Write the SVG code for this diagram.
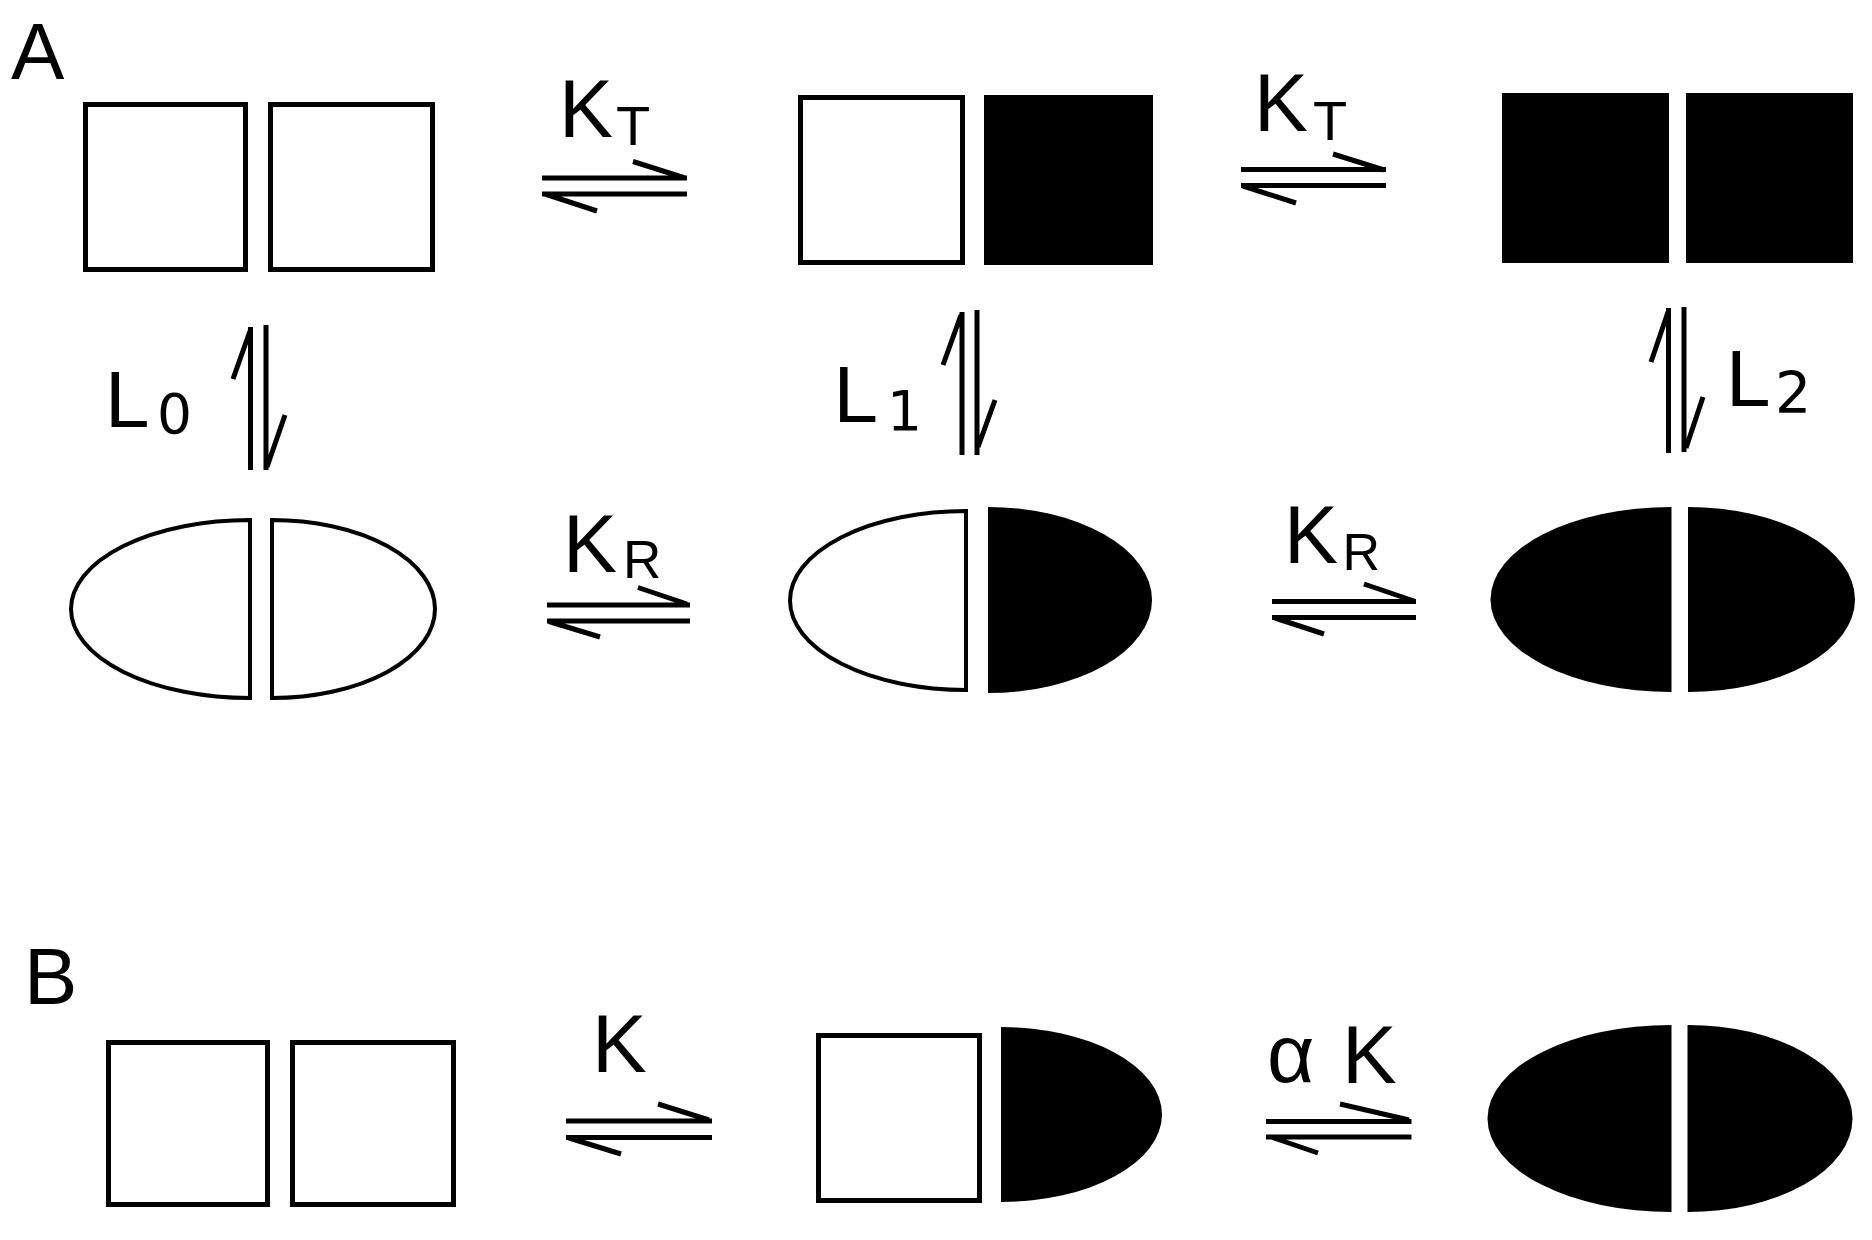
<svg xmlns="http://www.w3.org/2000/svg" width="1872" height="1240" viewBox="0 0 1872 1240">
<style>
.box{fill:#fff;stroke:#000;stroke-width:5}
.fill{fill:#000;stroke:none}
.oval{fill:#fff;stroke:#000;stroke-width:4}
.arr{fill:none;stroke:#000;stroke-width:5}
.lbl{font-family:"Liberation Sans",Arial,sans-serif;fill:#000}
.dig{font-family:"DejaVu Sans","Liberation Sans",sans-serif;fill:#000}
</style>
<rect width="1872" height="1240" fill="#fff"/>
<text class="lbl" x="11" y="79" font-size="80">A</text>
<text class="lbl" x="24" y="1004" font-size="80">B</text>

<g id="A-T0">
<rect class="box" x="85.5" y="104.5" width="160" height="165"/>
<rect class="box" x="270.5" y="104.5" width="162" height="165"/>
</g>
<g id="A-T1">
<rect class="box" x="800.5" y="97.5" width="162" height="165"/>
<rect class="fill" x="984" y="95" width="169" height="170"/>
</g>
<g id="A-T2">
<rect class="fill" x="1502" y="93" width="167" height="170"/>
<rect class="fill" x="1686" y="93" width="167" height="170"/>
</g>
<g id="A-R0">
<path class="oval" d="M250 520 A179 89 0 0 0 250 698 Z"/>
<path class="oval" d="M272 520 A163 89 0 0 1 272 698 Z"/>
</g>
<g id="A-R1">
<path class="oval" d="M966 511 A176 89.5 0 0 0 966 690 Z"/>
<path class="fill" d="M988 507 A164 93 0 0 1 988 693 Z"/>
</g>
<g id="A-R2">
<path class="fill" d="M1671.5 507 A181 92.5 0 0 0 1671.5 692 Z"/>
<path class="fill" d="M1688 507 A167 92.5 0 0 1 1688 692 Z"/>
</g>
<g id="B-0">
<rect class="box" x="108.5" y="1042.5" width="159" height="162"/>
<rect class="box" x="292.5" y="1042.5" width="161" height="162"/>
</g>
<g id="B-1">
<rect class="box" x="818.5" y="1035.5" width="161" height="165"/>
<path class="fill" d="M1001 1027 A161 87.5 0 0 1 1001 1202 Z"/>
</g>
<g id="B-2">
<path class="fill" d="M1671.5 1025 A184 93.5 0 0 0 1671.5 1212 Z"/>
<path class="fill" d="M1687.5 1025 A165 93.5 0 0 1 1687.5 1212 Z"/>
</g>

<g id="connectors">
<path class="arr" d="M542 178 H687 M633 161.5 L685 178 M542 194 H687 M545 194 L597 211"/>
<text class="lbl" font-size="81"><tspan x="559" y="137">K</tspan><tspan x="616" y="145" font-size="56">T</tspan></text>

<path class="arr" d="M1241 169.5 H1386 M1333 154 L1384 170 M1241 185.5 H1386 M1243 186 L1296 203"/>
<text class="lbl" font-size="81"><tspan x="1254" y="131">K</tspan><tspan x="1313" y="140" font-size="56">T</tspan></text>

<path class="arr" d="M547 605 H690 M638 587.5 L687 604 M547 621 H690 M549 621.5 L600 637"/>
<text class="lbl" font-size="81"><tspan x="563" y="572">K</tspan><tspan x="623" y="578" font-size="53">R</tspan></text>

<path class="arr" d="M1272 601.5 H1416 M1364 584 L1414 601 M1272 617.5 H1416 M1275 618 L1324 634"/>
<text class="lbl" font-size="81"><tspan x="1284" y="563">K</tspan><tspan x="1342.5" y="570" font-size="52">R</tspan></text>

<path class="arr" d="M250.5 327 V470 M233 379 L250 331 M266 325 V470 M285 415 L267 467"/>
<text class="lbl" font-size="80"><tspan x="105" y="427">L</tspan><tspan class="dig" x="157" y="433" font-size="55">0</tspan></text>

<path class="arr" d="M962 312 V455 M943 365 L961 315 M977 310 V455 M995 400 L978 447"/>
<text class="lbl" font-size="80"><tspan x="833.5" y="422">L</tspan><tspan class="dig" x="887" y="430" font-size="55">1</tspan></text>

<path class="arr" d="M1668.5 308 V453 M1651 362 L1668 312 M1684 307 V452 M1703 397 L1686 448"/>
<text class="lbl" font-size="80"><tspan x="1726" y="406">L</tspan><tspan class="dig" x="1775" y="413" font-size="57">2</tspan></text>

<path class="arr" d="M566 1121 H712 M658 1104 L709 1120 M566 1137.5 H712 M569 1138 L621 1154"/>
<text class="lbl" x="592" y="1072" font-size="82">K</text>

<path class="arr" d="M1266 1121.5 H1411.5 M1340 1104 L1409 1120 M1266 1137 H1411.5 M1271 1137 L1318 1153"/>
<text class="lbl" font-size="82"><tspan x="1267" y="1082">α</tspan><tspan x="1342" y="1083">K</tspan></text>
</g>
</svg>
